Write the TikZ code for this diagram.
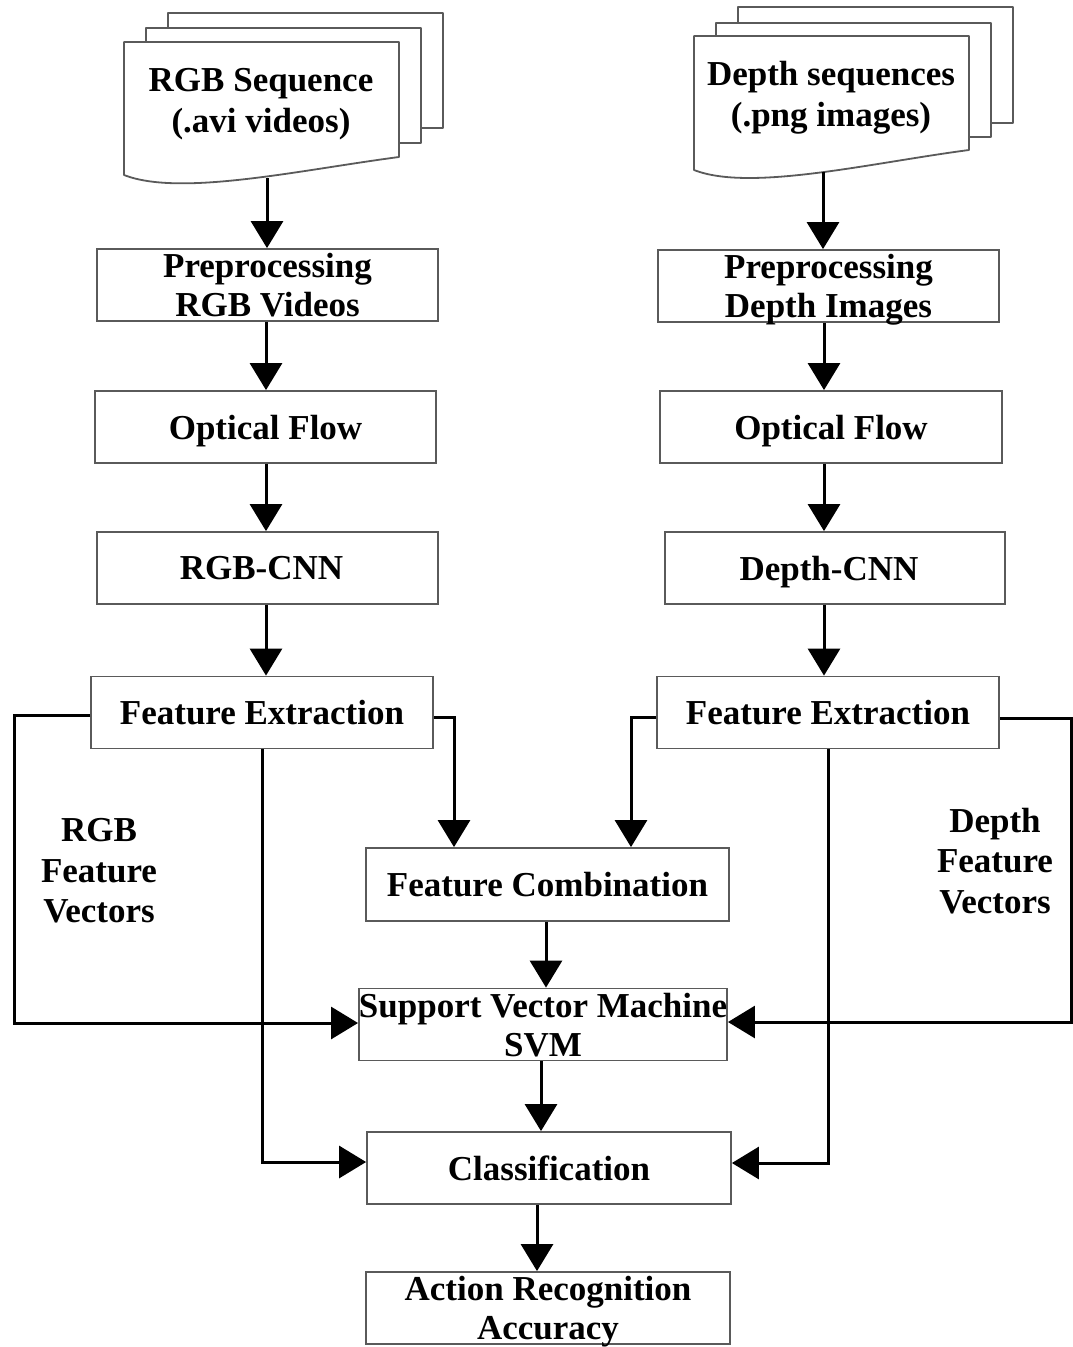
\documentclass[tikz,border=0pt]{standalone}
\usepackage{fontspec}
\setmainfont{Liberation Serif}
\usetikzlibrary{arrows.meta,calc}
\definecolor{boxgray}{HTML}{5A5A5A}
\begin{document}
\begin{tikzpicture}[x=1pt,y=-1pt,
  box/.style={draw=boxgray,line width=1.8pt,fill=white,minimum width=341pt,minimum height=72pt,
    inner sep=0pt,align=center,text depth=0pt,font=\fontsize{35}{39}\selectfont\bfseries},
  txt/.style={inner sep=0pt,align=center,font=\fontsize{35}{40.5}\selectfont\bfseries},
  sheet/.style={draw=boxgray,line width=1.8pt,fill=white,line join=round},
  arr/.style={draw=black,line width=3pt,-{Triangle[width=32pt,length=27pt]}}]
\useasboundingbox (0,0) rectangle (1073,1347);
% document stacks
\draw[sheet] (168,13) rectangle (443,128);
\draw[sheet] (146,28) rectangle (421,143);
\draw[sheet] (399,157) -- (399,42) -- (124,42) -- (124,175) .. controls (180,197) and (300,170) .. cycle;
\draw[sheet] (738,7) rectangle (1013,123);
\draw[sheet] (716,23) rectangle (991,137);
\draw[sheet] (969,150) -- (969,36) -- (694,36) -- (694,170) .. controls (750,192) and (870,163) .. cycle;
\node[txt] (rgbdoc) at (261,104) {RGB Sequence\\(.avi videos)};
\node[txt] (depthdoc) at (831,97.5) {Depth sequences\\(.png images)};
\coordinate (rgbdocb) at (267,178);
\coordinate (depthdocb) at (823,172);
% boxes
\node[box] (prepL) at (267.5,285) {Preprocessing\\RGB Videos};
\node[box] (ofL) at (265.5,427) {Optical Flow};
\node[box] (cnnL) at (267.5,568) {\hspace*{-12pt}RGB-CNN};
\node[box,minimum width=342pt] (feL) at (262,712.5) {Feature Extraction};
\node[box] (prepR) at (828.5,286) {Preprocessing\\Depth Images};
\node[box,minimum width=342pt] (ofR) at (831,427) {Optical Flow};
\node[box,minimum width=340pt] (cnnR) at (835,568) {\hspace*{-12pt}Depth-CNN};
\node[box,minimum width=342pt] (feR) at (828,712.5) {Feature Extraction};
\node[box,minimum width=363pt,minimum height=73pt] (fc) at (547.5,884.5) {Feature Combination};
\node[box,minimum width=364pt] (svm) at (543,1024.5) {Support Vector Machine\\SVM};
\node[box,minimum width=364pt] (cls) at (549,1168) {Classification};
\node[box,minimum width=364pt] (ara) at (548,1308) {Action Recognition\\Accuracy};
% labels
\node[txt] (rgbfv) at (99,871) {RGB\\Feature\\Vectors};
\node[txt] (depthfv) at (995,861) {Depth\\Feature\\Vectors};
% column coordinates
\coordinate (cl) at (266,0);
\coordinate (cr) at (824,0);
\coordinate (m1) at (546,0);
\coordinate (m2) at (541,0);
\coordinate (m3) at (537,0);
\coordinate (lo) at (14,0);
\coordinate (ro) at (1071,0);
\coordinate (lfc) at (454,0);
\coordinate (rfc) at (631,0);
% vertical arrows
\draw[arr] (rgbdocb) -- (prepL.north -| rgbdocb);
\draw[arr] (prepL.south -| cl) -- (ofL.north -| cl);
\draw[arr] (ofL.south -| cl) -- (cnnL.north -| cl);
\draw[arr] (cnnL.south -| cl) -- (feL.north -| cl);
\draw[arr] (depthdocb) -- (prepR.north -| depthdocb);
\draw[arr] (prepR.south -| cr) -- (ofR.north -| cr);
\draw[arr] (ofR.south -| cr) -- (cnnR.north -| cr);
\draw[arr] (cnnR.south -| cr) -- (feR.north -| cr);
\draw[arr] (fc.south -| m1) -- (svm.north -| m1);
\draw[arr] (svm.south -| m2) -- (cls.north -| m2);
\draw[arr] (cls.south -| m3) -- (ara.north -| m3);
% branching connectors
\draw[arr] ([yshift=-2.5pt]feL.west) -- ([yshift=-2.5pt]feL.west -| lo) |- ([yshift=1.5pt]svm.west);
\draw[arr] ([yshift=-4.5pt]feL.east) -| (fc.north -| lfc);
\draw[arr] (feL.south) |- ([yshift=6pt]cls.west);
\draw[arr] ([yshift=-4.5pt]feR.west) -| (fc.north -| rfc);
\draw[arr] ([yshift=-5.5pt]feR.east) -- ([yshift=-5.5pt]feR.east -| ro) |- ([yshift=2.5pt]svm.east);
\draw[arr] (feR.south) |- ([yshift=5pt]cls.east);
\end{tikzpicture}
\end{document}
